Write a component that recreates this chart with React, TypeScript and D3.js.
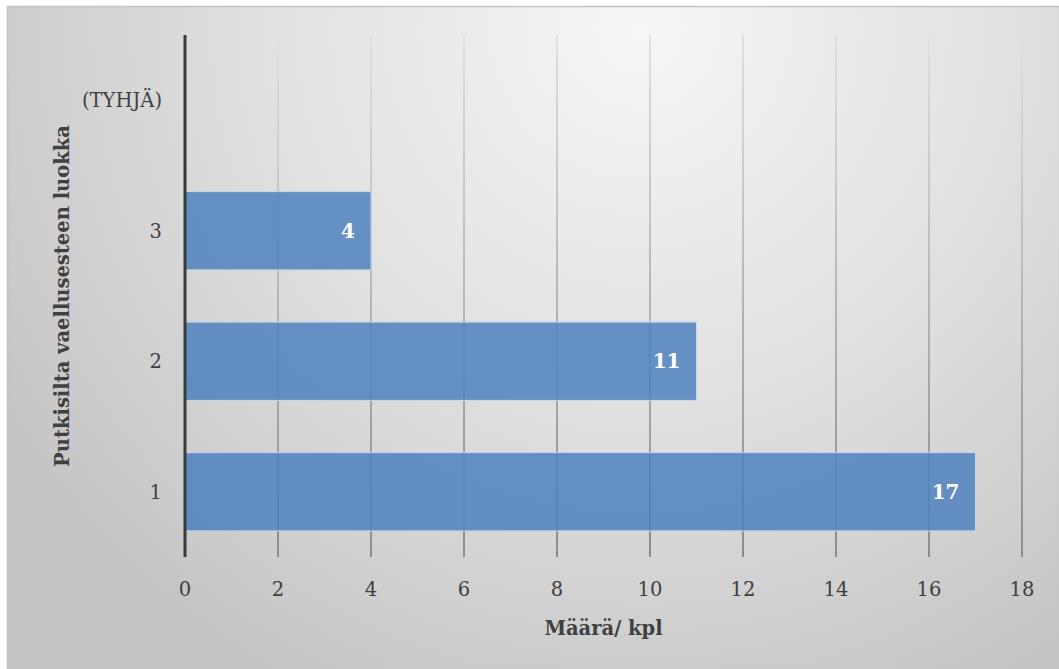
import React from "react";
import * as d3 from "d3";

const categories = ["(TYHJÄ)", "3", "2", "1"];
const values: (number | null)[] = [null, 4, 11, 17];
const xTicks = [0, 2, 4, 6, 8, 10, 12, 14, 16, 18];
const xTitle = "Määrä/ kpl";
const yTitle = "Putkisilta vaellusesteen luokka";

const W = 1059;
const H = 669;
const FONT = "'DejaVu Serif', 'Liberation Serif', serif";

export default function App() {
  const plotL = 185, plotR = 1022, plotT = 35, plotB = 557;
  const x = d3.scaleLinear().domain([0, 18]).range([plotL, plotR]);
  const y = d3.scaleBand<string>().domain(categories).range([plotT, plotB]).paddingInner(0.4).paddingOuter(0.2);

  return (
    <svg width={W} height={H} style={{ position: "absolute", left: 0, top: 0, background: "#fff" }}>
      <defs>
        <radialGradient id="bg" gradientUnits="userSpaceOnUse" cx={640} cy={30} r={740}>
          <stop offset="0" stopColor="#f6f6f6" />
          <stop offset="0.5" stopColor="#e1e1e1" />
          <stop offset="1" stopColor="#c5c5c5" />
        </radialGradient>
        <linearGradient id="grid" gradientUnits="userSpaceOnUse" x1={0} y1={plotT} x2={0} y2={plotB}>
          <stop offset="0" stopColor="#e0e0e0" />
          <stop offset="1" stopColor="#8c8c8c" />
        </linearGradient>
      </defs>
      <rect x={7.5} y={6.5} width={W - 7} height={H - 6} fill="url(#bg)" stroke="#c4c4c4" strokeWidth={1.5} />
      {xTicks.filter((t) => t !== 0).map((t) => (
        <line key={"g" + t} x1={x(t)} x2={x(t)} y1={plotT} y2={plotB} stroke="url(#grid)" strokeWidth={2} />
      ))}
      {categories.map((c, i) =>
        values[i] == null ? null : (
          <g key={"b" + c}>
            <rect
              x={x(0)}
              y={y(c)!}
              width={x(values[i] as number) - x(0)}
              height={y.bandwidth()}
              fill="#4f81bd"
              fillOpacity={0.85}
              stroke="#c6d6ea"
              strokeWidth={1}
            />
            <text
              x={x(values[i] as number) - 16}
              y={y(c)! + y.bandwidth() / 2}
              dy="0.35em"
              textAnchor="end"
              fontFamily={FONT}
              fontWeight="bold"
              fontSize={20}
              fill="#fff"
            >
              {values[i]}
            </text>
          </g>
        )
      )}
      <line x1={x(0)} x2={x(0)} y1={plotT} y2={plotB} stroke="#3a3a3a" strokeWidth={3} />
      {categories.map((c) => (
        <text key={"yl" + c} x={162} y={y(c)! + y.bandwidth() / 2} dy="0.35em" textAnchor="end" fontFamily={FONT} fontSize={19.5} fill="#404040">
          {c}
        </text>
      ))}
      {xTicks.map((t) => (
        <text key={"xl" + t} x={x(t)} y={589} dy="0.35em" textAnchor="middle" fontFamily={FONT} fontSize={19.5} fill="#404040">
          {t}
        </text>
      ))}
      <text x={(plotL + plotR) / 2} y={628} dy="0.35em" textAnchor="middle" fontFamily={FONT} fontWeight="bold" fontSize={19.5} fill="#404040">
        {xTitle}
      </text>
      <text transform={`translate(62,${(plotT + plotB) / 2}) rotate(-90)`} dy="0.35em" textAnchor="middle" fontFamily={FONT} fontWeight="bold" fontSize={19.5} fill="#404040">
        {yTitle}
      </text>
    </svg>
  );
}
